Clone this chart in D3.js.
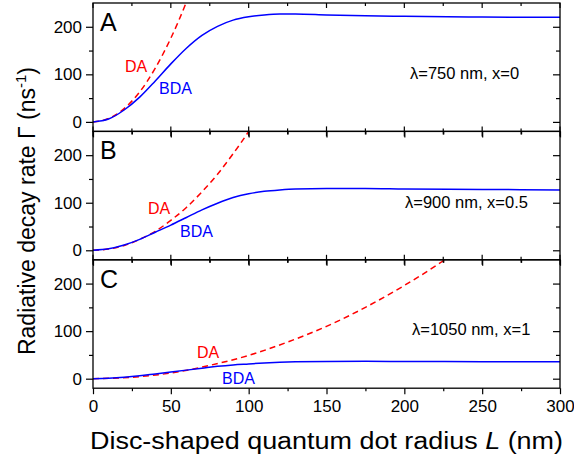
<!DOCTYPE html>
<html>
<head>
<meta charset="utf-8">
<script src="https://cdn.jsdelivr.net/npm/d3@7"></script>
<style>
  body { margin: 0; background: #fff; }
  text { font-family: "Liberation Sans", Arial, sans-serif; }
</style>
</head>
<body>
<div id="chart-area"></div>
<script>
// tick labels and panel texts
var xTicks = [0, 50, 100, 150, 200, 250, 300];
var xMinor = [25, 75, 125, 175, 225, 275];
var yTicks = [0, 100, 200];
var yMinor = [50, 150];
var panelLetters = ["A", "B", "C"];
var conditions = ["\u03bb=750 nm, x=0", "\u03bb=900 nm, x=0.5", "\u03bb=1050 nm, x=1"];

// BDA curves (solid blue)
var radiusBDA = [0, 10, 20, 30, 40, 50, 60, 70, 80, 90, 100, 110, 120, 130, 150, 175, 200, 250, 300];
var bdaA = [0, 6, 25, 52, 86, 122, 155, 182, 201, 214, 221, 225, 227, 227, 225, 223, 222, 220.5, 220];
var bdaB = [0, 3, 11, 23, 38, 53, 69, 85, 99, 111, 119, 124, 127, 129, 130, 130, 129, 128, 127];
var bdaC = [0, 1, 3, 6, 10, 14, 18, 22, 26, 29, 31, 33, 34.5, 35.5, 36.4, 36.5, 36.2, 35.8, 35.5];

// DA curves (dashed red)
var radiusDA_A = [0, 10, 20, 30, 40, 50, 60, 65];
var daA = [0, 7, 28, 63, 113, 176, 252, 295];
var radiusDA_B = [0, 10, 20, 30, 40, 50, 60, 70, 80, 90, 100, 105];
var daB = [0, 2.5, 10, 23, 40, 63, 90, 123, 160, 203, 250, 276];
var radiusDA_C = [0, 25, 50, 75, 100, 125, 150, 175, 200, 225, 235];
var daC = [0, 3, 12, 28, 49, 77, 110, 150, 196, 248, 271];

var panels = [
  {letter: panelLetters[0], cond: conditions[0], bda: bdaA, daL: radiusDA_A, da: daA,
   daLab: [125, 72], bdaLab: [159, 94], condPos: [410, 79]},
  {letter: panelLetters[1], cond: conditions[1], bda: bdaB, daL: radiusDA_B, da: daB,
   daLab: [148, 214], bdaLab: [180, 237], condPos: [405, 208]},
  {letter: panelLetters[2], cond: conditions[2], bda: bdaC, daL: radiusDA_C, da: daC,
   daLab: [197, 358], bdaLab: [222, 384], condPos: [412, 335]}
];

var W = 574, H = 460;
var left = 93, right = 560, top0 = 3, panelH = 128.4;

var svg = d3.select("#chart-area").append("svg")
    .attr("width", W)
    .attr("height", H);

var x = d3.scaleLinear().domain([0, 300]).range([left, right]);

panels.forEach(function(p, i) {
    var y0 = top0 + i * panelH;
    var y = d3.scaleLinear().domain([-20, 250]).range([y0 + panelH, y0]);

    svg.append("clipPath").attr("id", "clip" + i)
      .append("rect")
        .attr("x", left).attr("y", y0)
        .attr("width", right - left).attr("height", panelH);

    var g = svg.append("g");

    var line = d3.line()
        .x(function(d) { return x(d[0]); })
        .y(function(d) { return y(d[1]); })
        .curve(d3.curveMonotoneX);

    g.append("path")
        .datum(p.daL.map(function(v, k) { return [v, p.da[k]]; }))
        .attr("clip-path", "url(#clip" + i + ")")
        .attr("d", line)
        .attr("fill", "none")
        .attr("stroke", "#ff0000")
        .attr("stroke-width", 1.5)
        .attr("stroke-dasharray", "6,4");

    g.append("path")
        .datum(radiusBDA.map(function(v, k) { return [v, p.bda[k]]; }))
        .attr("clip-path", "url(#clip" + i + ")")
        .attr("d", line)
        .attr("fill", "none")
        .attr("stroke", "#0000ff")
        .attr("stroke-width", 1.5);

    // frame
    g.append("rect")
        .attr("x", left).attr("y", y0)
        .attr("width", right - left).attr("height", panelH)
        .attr("fill", "none").attr("stroke", "#000").attr("stroke-width", 1.3);

    // left axis, ticks outward
    var yl = g.append("g").attr("transform", "translate(" + left + ",0)")
        .call(d3.axisLeft(y).tickValues(yTicks).tickSize(7).tickPadding(4));
    yl.select(".domain").remove();
    yl.selectAll("text").attr("font-size", 17).attr("fill", "#000")
        .attr("font-family", "Liberation Sans, Arial, sans-serif");
    g.append("g").attr("transform", "translate(" + left + ",0)")
        .call(d3.axisLeft(y).tickValues(yMinor).tickSize(4).tickFormat(""))
        .select(".domain").remove();

    // right axis, ticks inward
    var yr = g.append("g").attr("transform", "translate(" + right + ",0)")
        .call(d3.axisLeft(y).tickValues(yTicks).tickSize(7).tickFormat(""));
    yr.select(".domain").remove();
    g.append("g").attr("transform", "translate(" + right + ",0)")
        .call(d3.axisLeft(y).tickValues(yMinor).tickSize(4).tickFormat(""))
        .select(".domain").remove();

    // top ticks: inward on first panel, crossing on the shared edges
    var topUp = i == 0 ? 0 : 5, topUpMinor = i == 0 ? 0 : 3;
    g.selectAll(".tt").data(xTicks.concat(xMinor)).enter().append("line")
        .attr("x1", function(d) { return x(d); })
        .attr("x2", function(d) { return x(d); })
        .attr("y1", function(d) { return y0 - (xTicks.indexOf(d) >= 0 ? topUp : topUpMinor); })
        .attr("y2", function(d) { return y0 + (xTicks.indexOf(d) >= 0 ? 5 : 3); })
        .attr("stroke", "#000").attr("stroke-width", 1.2);

    // bottom ticks, outward
    var xb = g.append("g").attr("transform", "translate(0," + (y0 + panelH) + ")")
        .call(d3.axisBottom(x).tickValues(xTicks).tickSize(6).tickPadding(6)
              .tickFormat(i == 2 ? d3.format("d") : ""));
    xb.select(".domain").remove();
    xb.selectAll("text").attr("font-size", 17).attr("fill", "#000")
        .attr("font-family", "Liberation Sans, Arial, sans-serif");
    g.append("g").attr("transform", "translate(0," + (y0 + panelH) + ")")
        .call(d3.axisBottom(x).tickValues(xMinor).tickSize(3).tickFormat(""))
        .select(".domain").remove();

    g.selectAll(".tick line").attr("stroke", "#000").attr("stroke-width", 1.2);

    // panel texts
    g.append("text").attr("x", 100).attr("y", y0 + 28)
        .attr("font-size", 25).text(p.letter);
    g.append("text").attr("x", p.daLab[0]).attr("y", p.daLab[1])
        .attr("font-size", 16).attr("fill", "#ff0000").text("DA");
    g.append("text").attr("x", p.bdaLab[0]).attr("y", p.bdaLab[1])
        .attr("font-size", 16).attr("fill", "#0000ff").text("BDA");
    g.append("text").attr("x", p.condPos[0]).attr("y", p.condPos[1])
        .attr("font-size", 16.5).text(p.cond);
});

// axis titles
var xt = svg.append("text")
    .attr("x", (left + right) / 2).attr("y", 449)
    .attr("text-anchor", "middle")
    .attr("font-size", 23)
    .attr("textLength", 473).attr("lengthAdjust", "spacingAndGlyphs");
xt.append("tspan").text("Disc-shaped quantum dot radius ");
xt.append("tspan").attr("font-style", "italic").text("L");
xt.append("tspan").text(" (nm)");

var yt = svg.append("text")
    .attr("transform", "translate(35,211) rotate(-90)")
    .attr("text-anchor", "middle")
    .attr("font-size", 23);
yt.append("tspan").text("Radiative decay rate \u0393 (ns");
yt.append("tspan").attr("dy", -9).attr("font-size", 15).text("-1");
yt.append("tspan").attr("dy", 9).text(")");
</script>
</body>
</html>
